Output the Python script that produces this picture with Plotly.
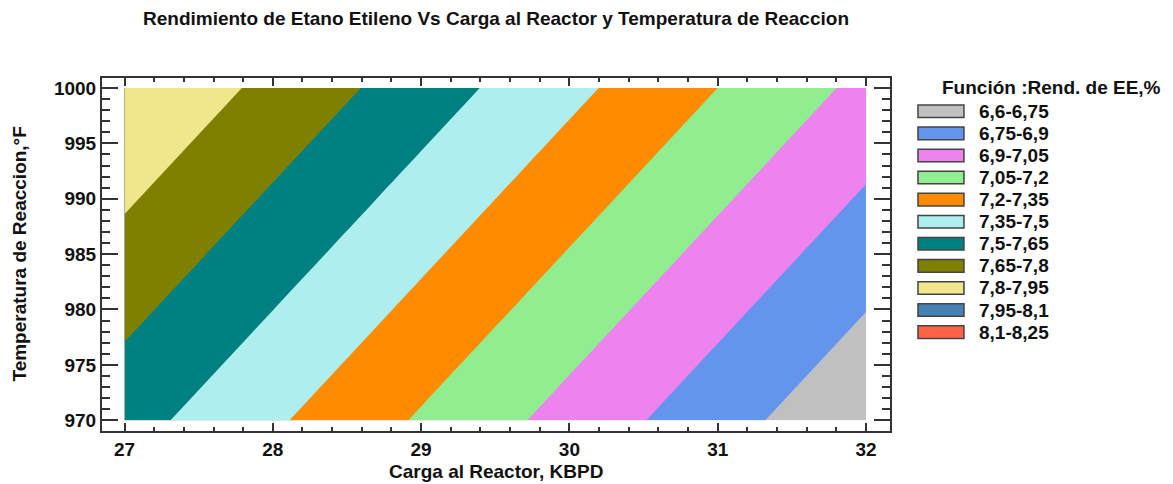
import plotly.graph_objects as go

# Grid of the response surface: reactor feed (KBPD) x reaction temperature (°F)
carga = [27, 28, 29, 30, 31, 32]
temperatura = [970, 980, 990, 1000]
rendimiento = [
    [7.558, 7.371, 7.184, 6.997, 6.810, 6.623],
    [7.688, 7.501, 7.314, 7.127, 6.940, 6.753],
    [7.818, 7.631, 7.444, 7.257, 7.070, 6.883],
    [7.948, 7.761, 7.574, 7.387, 7.200, 7.013],
]

# Contour bands
nivel_inicio = 6.6
nivel_paso = 0.15
nivel_fin = 8.25
etiquetas = ["6,6-6,75", "6,75-6,9", "6,9-7,05", "7,05-7,2", "7,2-7,35", "7,35-7,5",
             "7,5-7,65", "7,65-7,8", "7,8-7,95", "7,95-8,1", "8,1-8,25"]
colores = ["#C0C0C0", "#6495ED", "#EE82EE", "#90EE90", "#FF8C00", "#AFEEEE",
           "#008080", "#808000", "#F0E68C", "#4682B4", "#FF6347"]

W, H = 1173, 484
L, R, T, B = 101.5, 890.0, 78.0, 431.0
FUENTE = "Liberation Sans, Arial"
TAM = 19


def px_x(px):
    return (px - L) / (R - L)


def px_y(py):
    return (B - py) / (B - T)


# step colorscale: band k is coloured around its midpoint
n_niveles = len(etiquetas) + 1
escala = [[0.0, colores[0]]]
for k, c in enumerate(colores):
    escala.append([(k + 0.5) / n_niveles, c])
    escala.append([(k + 1.5) / n_niveles, c])
escala.append([1.0, colores[-1]])

fig = go.Figure()
fig.add_trace(go.Contour(
    x=carga, y=temperatura, z=rendimiento,
    autocontour=False,
    contours=dict(start=nivel_inicio, end=nivel_fin, size=nivel_paso, coloring="fill"),
    colorscale=escala,
    line=dict(width=0),
    showscale=False,
    hoverinfo="skip",
))

eje = dict(
    showline=True, linecolor="#333333", linewidth=2, mirror="ticks",
    ticks="inside", tickcolor="#333333", showgrid=False, zeroline=False,
    automargin=False,
    tickfont=dict(family=FUENTE, size=TAM, color="#111111", weight="bold"),
)

fig.update_layout(
    width=W, height=H,
    margin=dict(l=L, r=W - R, t=T, b=H - B, autoexpand=False),
    paper_bgcolor="white", plot_bgcolor="white",
    showlegend=False,
    title=dict(
        text="<b>Rendimiento de Etano Etileno Vs Carga al Reactor y Temperatura de Reaccion</b>",
        x=0.5, xref="paper", xanchor="center", y=1 - 18 / H, yanchor="middle",
        font=dict(family=FUENTE, size=TAM, color="#111111"),
    ),
    xaxis=dict(
        eje, range=[26.848, 32.162], tickvals=[27, 28, 29, 30, 31, 32],
        ticklen=8, tickwidth=1.5,
        minor=dict(dtick=0.2, tick0=27, ticks="inside", ticklen=4, tickcolor="#333333", tickwidth=1.5),
    ),
    yaxis=dict(
        eje, range=[969.03, 1000.9], tickvals=[970, 975, 980, 985, 990, 995, 1000],
        ticklen=16, tickwidth=1.5,
        minor=dict(dtick=1, tick0=970, ticks="inside", ticklen=8, tickcolor="#333333", tickwidth=1.5),
    ),
)

shapes = []
annots = [
    # axis titles
    dict(text="<b>Carga al Reactor, KBPD</b>", xref="paper", yref="paper",
         x=0.5, y=px_y(471.5), xanchor="center", yanchor="middle", showarrow=False,
         font=dict(family=FUENTE, size=TAM, color="#111111")),
    dict(text="<b>Temperatura de Reaccion,°F</b>", xref="paper", yref="paper",
         x=px_x(18.5), y=0.5, xanchor="center", yanchor="middle", showarrow=False,
         textangle=-90, font=dict(family=FUENTE, size=TAM, color="#111111")),
    # legend heading
    dict(text="<b>Función :Rend. de EE,%</b>", xref="paper", yref="paper",
         x=px_x(940), y=px_y(88), xanchor="left", yanchor="middle", showarrow=False,
         font=dict(family=FUENTE, size=TAM, color="#111111")),
]
# Legend drawn as boxes with labels to the right of the plot
for i, (lab, col) in enumerate(zip(etiquetas, colores)):
    cy = 111.3 + 22.08 * i
    shapes.append(dict(
        type="rect", xref="paper", yref="paper",
        x0=px_x(918), x1=px_x(964), y0=px_y(cy + 6.3), y1=px_y(cy - 6.3),
        fillcolor=col, line=dict(color="#444444", width=1.5),
    ))
    annots.append(dict(
        text="<b>" + lab + "</b>", xref="paper", yref="paper",
        x=px_x(977), y=px_y(cy), xanchor="left", yanchor="middle", showarrow=False,
        font=dict(family=FUENTE, size=TAM, color="#111111"),
    ))
fig.update_layout(shapes=shapes, annotations=annots)

fig.write_html("out.html")
